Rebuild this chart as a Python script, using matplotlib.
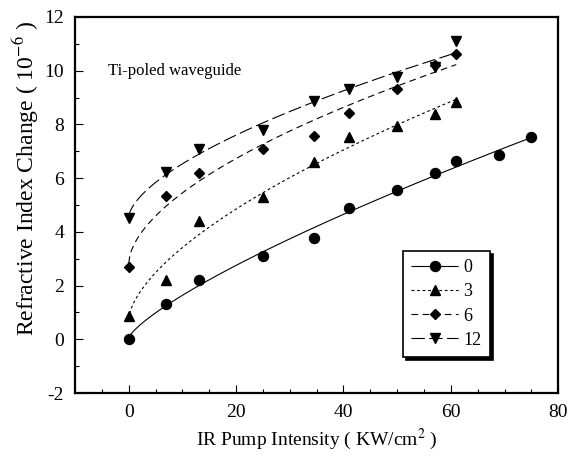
import numpy as np
import matplotlib
matplotlib.use("Agg")
import matplotlib.pyplot as plt
from matplotlib.ticker import MultipleLocator

plt.rcParams['font.family'] = ['Liberation Serif', 'DejaVu Serif']
plt.rcParams['mathtext.fontset'] = 'stix'
plt.rcParams['axes.unicode_minus'] = False

# pump intensity (KW/cm^2) and index change (1e-6) for each poling time
x_0 = [0, 7, 13, 25, 34.5, 41, 50, 57, 61, 69, 75]
y_0 = [0.0, 1.32, 2.22, 3.1, 3.78, 4.88, 5.54, 6.2, 6.62, 6.86, 7.52]

x_3 = [0, 7, 13, 25, 34.5, 41, 50, 57, 61]
y_3 = [0.88, 2.22, 4.42, 5.3, 6.6, 7.52, 7.95, 8.4, 8.85]

x_6 = [0, 7, 13, 25, 34.5, 41, 50, 57, 61]
y_6 = [2.68, 5.34, 6.2, 7.1, 7.55, 8.42, 9.3, 10.2, 10.62]

x_12 = [0, 7, 13, 25, 34.5, 41, 50, 57, 61]
y_12 = [4.5, 6.22, 7.1, 7.8, 8.88, 9.3, 9.78, 10.15, 11.1]

labels = ['0', '3', '6', '12']


def power_fit(x, y):
    # least squares fit of y = a + b * x**c, scanning the exponent
    x = np.asarray(x, float)
    y = np.asarray(y, float)
    best = None
    for c in np.linspace(0.1, 1.5, 281):
        A = np.column_stack([np.ones_like(x), x ** c])
        coef = np.linalg.lstsq(A, y, rcond=None)[0]
        err = np.sum((A @ coef - y) ** 2)
        if best is None or err < best[0]:
            best = (err, coef[0], coef[1], c)
    return best[1:]


fig = plt.figure(figsize=(5.69, 4.57), dpi=100)
ax = fig.add_axes([0.132, 0.14, 0.849, 0.823])

series = [
    (x_0, y_0, 'o', (0, ()), 7.2),
    (x_3, y_3, '^', (0, (2.5, 2.5)), 7.2),
    (x_6, y_6, 'D', (0, (6, 4)), 5.2),
    (x_12, y_12, 'v', (0, (12, 4)), 7.2),
]

for (xs, ys, mk, ls, ms), lab in zip(series, labels):
    a, b, c = power_fit(xs, ys)
    xx = np.linspace(0, max(xs), 300)
    ax.plot(xx, a + b * xx ** c, color='black', lw=0.8, ls=ls)
    ax.plot(xs, ys, ls='none', marker=mk, ms=ms, color='black')
    ax.plot([], [], color='black', lw=0.8, ls=ls, marker=mk, ms=ms, label=lab)

ax.set_xlim(-10, 80)
ax.set_ylim(-2, 12)
ax.xaxis.set_major_locator(MultipleLocator(20))
ax.xaxis.set_minor_locator(MultipleLocator(5))
ax.yaxis.set_major_locator(MultipleLocator(2))
ax.yaxis.set_minor_locator(MultipleLocator(1))
ax.tick_params(which='both', direction='in', labelsize=14, width=0.8)
ax.tick_params(which='major', length=6, pad=8)
ax.tick_params(which='minor', length=3)
for s in ax.spines.values():
    s.set_linewidth(1.6)

ax.set_xlabel('IR Pump Intensity ( KW/cm$^2$ )', fontsize=14, labelpad=4)
ax.set_ylabel('Refractive Index Change ( 10$^{-6}$ )', fontsize=17)
ax.yaxis.set_label_coords(-0.07, 0.57)

ax.text(-3.8, 10.0, 'Ti-poled waveguide', fontsize=12, va='center', ha='left')

leg = ax.legend(loc='lower left', bbox_to_anchor=(0.679, 0.096), fontsize=13,
                handlelength=2.6, frameon=True, fancybox=False, borderpad=0.45,
                labelspacing=0.4, handletextpad=0.3, borderaxespad=0,
                shadow={'facecolor': 'black', 'edgecolor': 'black', 'alpha': 1})
leg.get_frame().set_edgecolor('black')
leg.get_frame().set_linewidth(1.2)

fig.savefig('out.png', dpi=100)
